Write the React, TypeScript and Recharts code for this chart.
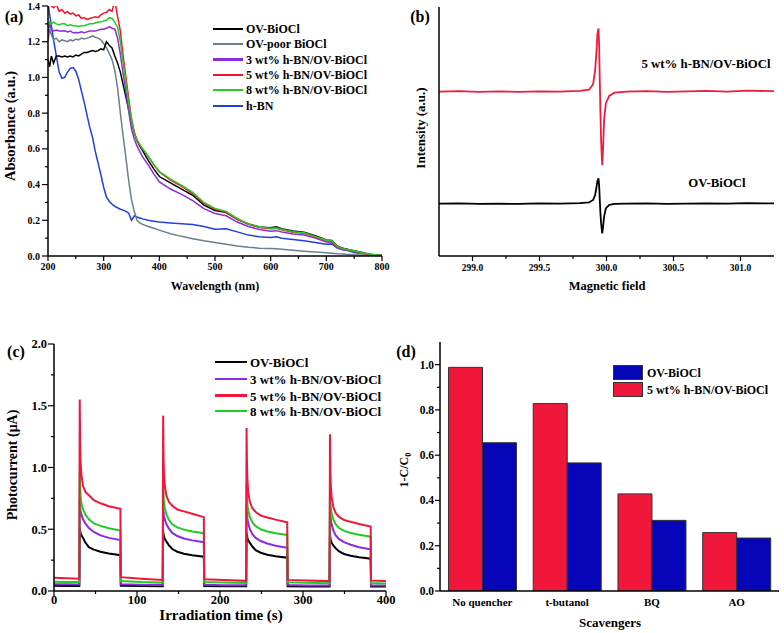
import React from 'react';
import { LineChart, Line, XAxis, YAxis, BarChart, Bar } from 'recharts';

const FONT = '"Liberation Serif", "Times New Roman", serif';

// ---------- Panel (a): UV-vis absorbance ----------
const wavelengthA = [200, 203, 206, 210, 215, 220, 225, 230, 235, 240, 245, 250, 255, 260, 265, 270, 275, 280, 285, 290, 295, 300, 305, 310, 315, 320, 325, 330, 335, 340, 345, 350, 355, 360, 365, 370, 380, 390, 400, 420, 440, 460, 480, 500, 520, 540, 560, 580, 600, 610, 620, 640, 660, 680, 700, 710, 720, 730, 740, 750, 760, 770, 780, 790, 800];
const ovA = [1.1, 1.06, 1.12,
  1.08, 1.12, 1.12, 1.115, 1.12, 1.115, 1.12, 1.115, 1.125, 1.12, 1.13, 1.14, 1.14, 1.145, 1.15, 1.145, 1.15, 1.16, 1.155, 1.2, 1.18, 1.165, 1.12, 1.08, 1.03, 0.96, 0.89, 0.82, 0.75, 0.69, 0.645, 0.615, 0.59,
  0.536, 0.488, 0.445,
  0.41, 0.375, 0.34, 0.285, 0.255, 0.243, 0.205, 0.18, 0.163, 0.158,
  0.163, 0.153,
  0.14, 0.133, 0.113, 0.09,
  0.087, 0.055, 0.044, 0.036, 0.029, 0.022, 0.015, 0.01, 0.006, 0.004];
const poorA = [1.2, 1.27, 1.24,
  1.21, 1.22, 1.2, 1.21, 1.205, 1.2, 1.21, 1.205, 1.215, 1.21, 1.22, 1.215, 1.22, 1.225, 1.233, 1.225, 1.22, 1.21, 1.19, 1.167, 1.135, 1.1, 1.04, 0.94, 0.8, 0.67, 0.55, 0.42, 0.314, 0.25, 0.2, 0.185, 0.177,
  0.165, 0.155, 0.145,
  0.125, 0.11, 0.097, 0.085, 0.075, 0.066, 0.056, 0.049, 0.044, 0.042,
  0.04, 0.038,
  0.032, 0.027, 0.022, 0.018,
  0.016, 0.013, 0.011, 0.009, 0.007, 0.006, 0.005, 0.004, 0.003, 0.002];
const bn3A = [1.25, 1.3, 1.27,
  1.26, 1.265, 1.26, 1.26, 1.261, 1.255, 1.26, 1.25, 1.252, 1.25, 1.255, 1.25, 1.255, 1.26, 1.26, 1.26, 1.265, 1.27, 1.27, 1.275, 1.285, 1.275, 1.27, 1.22, 1.13, 1.02, 0.92, 0.81, 0.71, 0.655, 0.615, 0.585, 0.555,
  0.51, 0.46, 0.415,
  0.375, 0.345, 0.31, 0.265, 0.238, 0.225, 0.19, 0.165, 0.148, 0.138,
  0.142, 0.135,
  0.123, 0.118, 0.1, 0.078,
  0.075, 0.045, 0.037, 0.031, 0.025, 0.018, 0.012, 0.008, 0.005, 0.003];
const bn5A = [1.41, 1.42, 1.4,
  1.39, 1.41, 1.37, 1.38, 1.36, 1.37, 1.355, 1.36, 1.345, 1.35, 1.33, 1.335, 1.325, 1.33, 1.335, 1.34, 1.335, 1.35, 1.36, 1.365, 1.38, 1.37, 1.43, 1.34, 1.26, 1.12, 1.0, 0.88, 0.77, 0.69, 0.645, 0.62, 0.6,
  0.558, 0.51, 0.47,
  0.425, 0.39, 0.35, 0.295, 0.262, 0.245, 0.205, 0.178, 0.16, 0.152,
  0.155, 0.147,
  0.133, 0.127, 0.107, 0.085,
  0.082, 0.05, 0.04, 0.033, 0.027, 0.02, 0.013, 0.009, 0.006, 0.004];
const bn8A = [1.28, 1.31, 1.3,
  1.31, 1.3, 1.295, 1.3, 1.3, 1.29, 1.295, 1.29, 1.29, 1.285, 1.29, 1.29, 1.295, 1.3, 1.3, 1.305, 1.31, 1.31, 1.318, 1.32, 1.335, 1.33, 1.31, 1.28, 1.2, 1.08, 0.97, 0.86, 0.76, 0.69, 0.65, 0.625, 0.6,
  0.56, 0.513, 0.473,
  0.43, 0.395, 0.357, 0.3, 0.266, 0.25, 0.21, 0.18, 0.163, 0.155,
  0.158, 0.15,
  0.136, 0.13, 0.11, 0.088,
  0.085, 0.052, 0.042, 0.035, 0.028, 0.021, 0.014, 0.01, 0.006, 0.004];
const hbnA = [1.42, 1.35, 1.29,
  1.21, 1.12, 1.03, 0.995, 1.0, 1.03, 1.05, 1.055, 1.035, 0.99, 0.925, 0.86, 0.79, 0.72, 0.665, 0.585, 0.52, 0.455, 0.385, 0.33, 0.307, 0.29, 0.278, 0.27, 0.262, 0.257, 0.25, 0.24, 0.2, 0.225, 0.218, 0.213, 0.208,
  0.2, 0.195, 0.19,
  0.185, 0.18, 0.176, 0.165, 0.15, 0.153, 0.135, 0.117, 0.108, 0.103,
  0.108, 0.1,
  0.093, 0.085, 0.075, 0.066,
  0.067, 0.045, 0.035, 0.029, 0.02, 0.014, null, null, null, null];
const wlTicksA = [200, 250, 300, 350, 400, 450, 500, 550, 600, 650, 700, 750, 800];
const absTicksA = [0, 0.1, 0.2, 0.3, 0.4, 0.5, 0.6, 0.7, 0.8, 0.9, 1.0, 1.1, 1.2, 1.3, 1.4];
const legendA = [
  { name: 'OV-BiOCl', color: '#000000' },
  { name: 'OV-poor BiOCl', color: '#6B7F8C' },
  { name: '3 wt% h-BN/OV-BiOCl', color: '#8B2BE2' },
  { name: '5 wt% h-BN/OV-BiOCl', color: '#F5142B' },
  { name: '8 wt% h-BN/OV-BiOCl', color: '#22CC22' },
  { name: 'h-BN', color: '#2040E0' },
];

// ---------- Panel (b): EPR ----------
const fieldB = [298.75, 298.9, 299.05, 299.2, 299.35, 299.5, 299.65, 299.8, 299.87, 299.9, 299.915, 299.925, 299.932, 299.94, 299.945, 299.95, 299.955, 299.96, 299.968, 299.975, 299.982, 299.995, 300.02, 300.06, 300.15, 300.3, 300.45, 300.6, 300.75, 300.9, 301.05, 301.25];
const bn5B = [66.0, 66.2, 65.9, 66.1, 65.9, 66.1, 66.0, 66.3, 66.8, 69.0, 74.5, 82.0, 89.0, 91.4, 85.0, 70.0, 57.0, 46.0, 36.5, 44.0, 54.6, 61.3, 64.3, 65.6, 66.0, 66.2, 65.9, 66.1, 66.3, 66.0, 66.4, 66.2];
const ovB = [21.0, 21.1, 20.9, 21.0, 20.9, 21.1, 21.0, 21.2, 21.5, 22.5, 24.5, 27.5, 30.0, 31.2, 28.5, 22.5, 17.0, 13.0, 9.1, 12.0, 15.8, 19.1, 20.5, 20.9, 21.0, 21.1, 20.9, 21.0, 21.1, 21.0, 21.2, 21.1];
const fieldTicksB = [299.0, 299.25, 299.5, 299.75, 300.0, 300.25, 300.5, 300.75, 301.0];

// ---------- Panel (c): photocurrent ----------
const timeC = [0, 15, 30.5,
  31, 31.5, 32, 33, 35, 38, 42, 48, 56, 66, 80,
  80.5, 105, 131,
  131.5, 132, 132.5, 133.5, 135.5, 138.5, 142.5, 148.5, 156.5, 166.5, 180.5,
  181, 205, 231.5,
  232, 232.5, 233, 234, 236, 239, 243, 249, 257, 267, 281,
  281.5, 305, 332,
  332.5, 333, 333.5, 334.5, 336.5, 339.5, 343.5, 349.5, 357.5, 367.5, 381.5,
  382, 400];
const ovC = [0.042, 0.041, 0.04,
  0.52, 0.49, 0.47, 0.45, 0.43, 0.39, 0.355, 0.335, 0.318, 0.303, 0.29,
  0.042, 0.04, 0.039,
  0.48, 0.46, 0.44, 0.42, 0.4, 0.37, 0.34, 0.318, 0.302, 0.29, 0.278,
  0.04, 0.038, 0.038,
  0.47, 0.45, 0.43, 0.41, 0.39, 0.36, 0.33, 0.31, 0.293, 0.281, 0.27,
  0.038, 0.037, 0.037,
  0.45, 0.43, 0.41, 0.39, 0.37, 0.345, 0.32, 0.3, 0.285, 0.273, 0.262,
  0.036, 0.036];
const bn3C = [0.055, 0.054, 0.053,
  0.75, 0.68, 0.65, 0.62, 0.58, 0.545, 0.51, 0.478, 0.45, 0.43, 0.413,
  0.055, 0.05, 0.048,
  0.72, 0.65, 0.61, 0.58, 0.54, 0.505, 0.47, 0.445, 0.425, 0.41, 0.395,
  0.05, 0.047, 0.046,
  0.7, 0.63, 0.59, 0.55, 0.5, 0.46, 0.43, 0.405, 0.385, 0.367, 0.35,
  0.048, 0.045, 0.045,
  0.68, 0.62, 0.58, 0.54, 0.49, 0.45, 0.42, 0.395, 0.375, 0.355, 0.338,
  0.045, 0.044];
const bn5C = [0.108, 0.104, 0.1,
  1.55, 1.2, 1.05, 0.94, 0.85, 0.8, 0.775, 0.735, 0.71, 0.686, 0.665,
  0.112, 0.1, 0.09,
  1.42, 1.08, 0.95, 0.85, 0.77, 0.72, 0.69, 0.66, 0.645, 0.625, 0.598,
  0.095, 0.09, 0.082,
  1.32, 1.02, 0.9, 0.8, 0.72, 0.67, 0.64, 0.61, 0.595, 0.578, 0.557,
  0.09, 0.085, 0.08,
  1.27, 0.98, 0.86, 0.76, 0.68, 0.63, 0.6, 0.575, 0.56, 0.543, 0.522,
  0.085, 0.08];
const bn8C = [0.075, 0.073, 0.072,
  0.96, 0.85, 0.77, 0.71, 0.66, 0.615, 0.58, 0.547, 0.527, 0.508, 0.49,
  0.08, 0.072, 0.068,
  0.9, 0.8, 0.72, 0.67, 0.62, 0.575, 0.54, 0.515, 0.497, 0.482, 0.468,
  0.072, 0.068, 0.065,
  0.87, 0.77, 0.7, 0.65, 0.6, 0.555, 0.525, 0.5, 0.482, 0.468, 0.454,
  0.07, 0.066, 0.063,
  0.8, 0.72, 0.67, 0.63, 0.58, 0.54, 0.51, 0.487, 0.47, 0.455, 0.44,
  0.065, 0.06];
const timeTicksC = [0, 50, 100, 150, 200, 250, 300, 350, 400];
const currentTicksC = [0, 0.25, 0.5, 0.75, 1.0, 1.25, 1.5, 1.75, 2.0];
const legendC = [
  { name: 'OV-BiOCl', color: '#000000' },
  { name: '3 wt% h-BN/OV-BiOCl', color: '#8A2BE2' },
  { name: '5 wt% h-BN/OV-BiOCl', color: '#F0163C' },
  { name: '8 wt% h-BN/OV-BiOCl', color: '#1FCC1F' },
];

// ---------- Panel (d): scavengers ----------
const scavengersD = ['No quencher', 't-butanol', 'BQ', 'AO'];
const bn5D = [0.988, 0.828, 0.429, 0.258];
const ovD = [0.655, 0.566, 0.312, 0.234];
const ratioTicksD = [0, 0.1, 0.2, 0.3, 0.4, 0.5, 0.6, 0.7, 0.8, 0.9, 1.0];
const legendD = [
  { name: 'OV-BiOCl', color: '#0606B8' },
  { name: '5 wt% h-BN/OV-BiOCl', color: '#F0173A' },
];

// ---------- derived tables ----------
const rowsA = wavelengthA.map((w, i) => ({ w, ov: ovA[i], poor: poorA[i], bn3: bn3A[i], bn5: bn5A[i], bn8: bn8A[i], hbn: hbnA[i] }));
const rowsB = fieldB.map((f, i) => ({ f, bn5: bn5B[i], ov: ovB[i] }));
const rowsC = timeC.map((t, i) => ({ t, ov: ovC[i], bn3: bn3C[i], bn5: bn5C[i], bn8: bn8C[i] }));
const rowsD = scavengersD.map((s, i) => ({ s, bn5: bn5D[i], ov: ovD[i] }));

// ---------- tick renderers ----------
const AX = { stroke: '#000', strokeWidth: 1.5 };

const bottomTick = (isMajor: (v: number) => boolean, fmt: (v: number) => string, fs: number, gap: number, majLen = 5, minLen = 3) => (p: any) => {
  const { x, y, payload } = p;
  const v = payload.value;
  const major = isMajor(v);
  return (
    <g>
      <line x1={x} x2={x} y1={y} y2={y + (major ? majLen : minLen)} stroke="#000" strokeWidth={1.2} />
      {major && (
        <text x={x} y={y + gap} dy="0.35em" textAnchor="middle" fontSize={fs} fontWeight="bold" fontFamily={FONT} fill="#000">{fmt(v)}</text>
      )}
    </g>
  );
};

const leftTick = (isMajor: (v: number) => boolean, fmt: (v: number) => string, fs: number, gap: number, majLen = 5, minLen = 3) => (p: any) => {
  const { x, y, payload } = p;
  const v = payload.value;
  const major = isMajor(v);
  return (
    <g>
      <line x1={x - (major ? majLen : minLen)} x2={x} y1={y} y2={y} stroke="#000" strokeWidth={1.2} />
      {major && (
        <text x={x - gap} y={y} dy="0.35em" textAnchor="end" fontSize={fs} fontWeight="bold" fontFamily={FONT} fill="#000">{fmt(v)}</text>
      )}
    </g>
  );
};

const catTick = (fs: number, gap: number) => (p: any) => (
  <text x={p.x} y={p.y + gap} dy="0.35em" textAnchor="middle" fontSize={fs} fontWeight="bold" fontFamily={FONT} fill="#000">{p.payload.value}</text>
);

// ---------- HTML text helpers ----------
const Txt = ({ x, y, size, rot, left, children }: any) => (
  <div style={{
    position: 'absolute', left: x, top: y, fontSize: size, fontWeight: 'bold', fontFamily: FONT,
    whiteSpace: 'nowrap', lineHeight: 1, color: '#000',
    transform: `${left ? 'translate(0,-50%)' : 'translate(-50%,-50%)'}${rot ? ' rotate(-90deg)' : ''}`,
  }}>{children}</div>
);

const LegendLines = ({ items, x, ys, len, size, lw }: any) => (
  <>
    {items.map((it: any, i: number) => (
      <React.Fragment key={it.name}>
        <div style={{ position: 'absolute', left: x, top: ys[i] - lw / 2, width: len, height: lw, background: it.color }} />
        <Txt x={x + len + 3} y={ys[i]} size={size} left>{it.name}</Txt>
      </React.Fragment>
    ))}
  </>
);

export default function App() {
  return (
    <div style={{ position: 'absolute', left: 0, top: 0, width: 784, height: 633, background: '#fff', overflow: 'hidden' }}>
      {/* (a) */}
      <div style={{ position: 'absolute', left: 0, top: 0 }}>
        <LineChart width={392} height={300} data={rowsA} margin={{ top: 6, right: 10, left: 18, bottom: 4 }}>
          <XAxis dataKey="w" type="number" domain={[200, 800]} ticks={wlTicksA} interval={0} height={40}
            tickSize={0} tickMargin={0} tickLine={false} axisLine={AX} allowDataOverflow
            tick={bottomTick((v) => v % 100 === 0, (v) => String(v), 10, 10)} />
          <YAxis type="number" domain={[0, 1.4]} ticks={absTicksA} interval={0} width={30}
            tickSize={0} tickMargin={0} tickLine={false} axisLine={AX} allowDataOverflow
            tick={leftTick((v) => Math.round(v * 10) % 2 === 0, (v) => v.toFixed(1), 10, 8, 6, 3)} />
          <XAxis xAxisId="top" orientation="top" height={0} tick={false} tickLine={false} axisLine={AX} />
          <YAxis yAxisId="right" orientation="right" width={0} tick={false} tickLine={false} axisLine={AX} />
          <Line dataKey="hbn" stroke="#2040E0" strokeWidth={1.5} dot={false} isAnimationActive={false} connectNulls={false} />
          <Line dataKey="poor" stroke="#6B7F8C" strokeWidth={1.5} dot={false} isAnimationActive={false} />
          <Line dataKey="ov" stroke="#000000" strokeWidth={1.5} dot={false} isAnimationActive={false} />
          <Line dataKey="bn3" stroke="#8B2BE2" strokeWidth={1.5} dot={false} isAnimationActive={false} />
          <Line dataKey="bn5" stroke="#F5142B" strokeWidth={1.5} dot={false} isAnimationActive={false} />
          <Line dataKey="bn8" stroke="#22CC22" strokeWidth={1.5} dot={false} isAnimationActive={false} />
        </LineChart>
      </div>

      {/* (b) */}
      <div style={{ position: 'absolute', left: 392, top: 0 }}>
        <LineChart width={392} height={300} data={rowsB} margin={{ top: 7, right: 10, left: 37, bottom: 4 }}>
          <XAxis dataKey="f" type="number" domain={[298.75, 301.25]} ticks={fieldTicksB} interval={0} height={40}
            tickSize={0} tickMargin={0} tickLine={false} axisLine={AX} allowDataOverflow
            tick={bottomTick((v) => Math.round(v * 100) % 50 === 0, (v) => v.toFixed(1), 9.5, 12)} />
          <YAxis type="number" domain={[0, 100]} width={10} tick={false} tickLine={false} axisLine={AX} />
          <XAxis xAxisId="top" orientation="top" height={0} tick={false} tickLine={false} axisLine={AX} />
          <YAxis yAxisId="right" orientation="right" width={0} tick={false} tickLine={false} axisLine={AX} />
          <Line dataKey="bn5" stroke="#EE1C3C" strokeWidth={1.8} dot={false} isAnimationActive={false} />
          <Line dataKey="ov" stroke="#000000" strokeWidth={1.8} dot={false} isAnimationActive={false} />
        </LineChart>
      </div>

      {/* (c) */}
      <div style={{ position: 'absolute', left: 0, top: 316 }}>
        <LineChart width={404} height={317} data={rowsC} margin={{ top: 28, right: 18, left: 24, bottom: 4 }}>
          <XAxis dataKey="t" type="number" domain={[0, 400]} ticks={timeTicksC} interval={0} height={38}
            tickSize={0} tickMargin={0} tickLine={false} axisLine={AX} allowDataOverflow
            tick={bottomTick((v) => v % 100 === 0, (v) => String(v), 12.5, 9, 6, 3)} />
          <YAxis type="number" domain={[0, 2]} ticks={currentTicksC} interval={0} width={30}
            tickSize={0} tickMargin={0} tickLine={false} axisLine={AX} allowDataOverflow
            tick={leftTick((v) => Math.round(v * 100) % 50 === 0, (v) => v.toFixed(1), 12.5, 7, 6, 3)} />
          <XAxis xAxisId="top" orientation="top" height={0} tick={false} tickLine={false} axisLine={AX} />
          <YAxis yAxisId="right" orientation="right" width={0} tick={false} tickLine={false} axisLine={AX} />
          <Line dataKey="ov" stroke="#000000" strokeWidth={2} dot={false} isAnimationActive={false} />
          <Line dataKey="bn3" stroke="#8A2BE2" strokeWidth={2} dot={false} isAnimationActive={false} />
          <Line dataKey="bn8" stroke="#1FCC1F" strokeWidth={2} dot={false} isAnimationActive={false} />
          <Line dataKey="bn5" stroke="#F0163C" strokeWidth={2} dot={false} isAnimationActive={false} />
        </LineChart>
      </div>

      {/* (d) */}
      <div style={{ position: 'absolute', left: 392, top: 316 }}>
        <BarChart width={392} height={317} data={rowsD} margin={{ top: 26, right: 5, left: 18, bottom: 4 }} barCategoryGap="10%" barGap={0}>
          <XAxis dataKey="s" height={38} tickSize={0} tickMargin={0} tickLine={false} axisLine={AX} interval={0}
            tick={catTick(11, 11)} />
          <YAxis type="number" domain={[0, 1.1]} ticks={ratioTicksD} interval={0} width={30}
            tickSize={0} tickMargin={0} tickLine={false} axisLine={AX} allowDataOverflow
            tick={leftTick((v) => Math.round(v * 10) % 2 === 0, (v) => v.toFixed(1), 11.5, 6, 5, 3)} />
          <XAxis xAxisId="top" orientation="top" height={0} tick={false} tickLine={false} axisLine={AX} />
          <YAxis yAxisId="right" orientation="right" width={0} tick={false} tickLine={false} axisLine={AX} />
          <Bar dataKey="bn5" fill="#F0173A" stroke="#333" strokeWidth={1} isAnimationActive={false} />
          <Bar dataKey="ov" fill="#0606B8" stroke="#333" strokeWidth={1} isAnimationActive={false} />
        </BarChart>
      </div>

      {/* panel letters */}
      <Txt x={14} y={17} size={16}>(a)</Txt>
      <Txt x={420} y={17} size={16}>(b)</Txt>
      <Txt x={16} y={352} size={16}>(c)</Txt>
      <Txt x={406} y={352} size={16}>(d)</Txt>

      {/* axis titles */}
      <Txt x={215} y={286} size={12}>Wavelength (nm)</Txt>
      <Txt x={10} y={126} size={14.5} rot>Absorbance (a.u.)</Txt>
      <Txt x={607} y={286} size={12.5}>Magnetic field</Txt>
      <Txt x={420} y={128} size={13} rot>Intensity (a.u.)</Txt>
      <Txt x={221} y={615} size={15}>Irradiation time (s)</Txt>
      <Txt x={13} y={465} size={14} rot>Photocurrent (μA)</Txt>
      <Txt x={610} y={622} size={13}>Scavengers</Txt>
      <Txt x={406} y={470} size={12} rot>1-C/C<sub style={{ fontSize: '0.7em' }}>0</sub></Txt>

      {/* legends */}
      <LegendLines items={legendA} x={213} ys={[29, 44, 59.5, 75, 90, 106]} len={30} size={12} lw={2.5} />
      <Txt x={706} y={63.5} size={12.8}>5 wt% h-BN/OV-BiOCl</Txt>
      <Txt x={717} y={182.5} size={12.8}>OV-BiOCl</Txt>
      <LegendLines items={legendC} x={215} ys={[362, 379, 395.5, 411]} len={32} size={13} lw={2.5} />
      {legendD.map((it, i) => (
        <React.Fragment key={it.name}>
          <div style={{ position: 'absolute', left: 613, top: 365 + i * 17, width: 28, height: 13, background: it.color, border: '1px solid #333' }} />
          <Txt x={647} y={372.5 + i * 17} size={12} left>{it.name}</Txt>
        </React.Fragment>
      ))}
    </div>
  );
}
